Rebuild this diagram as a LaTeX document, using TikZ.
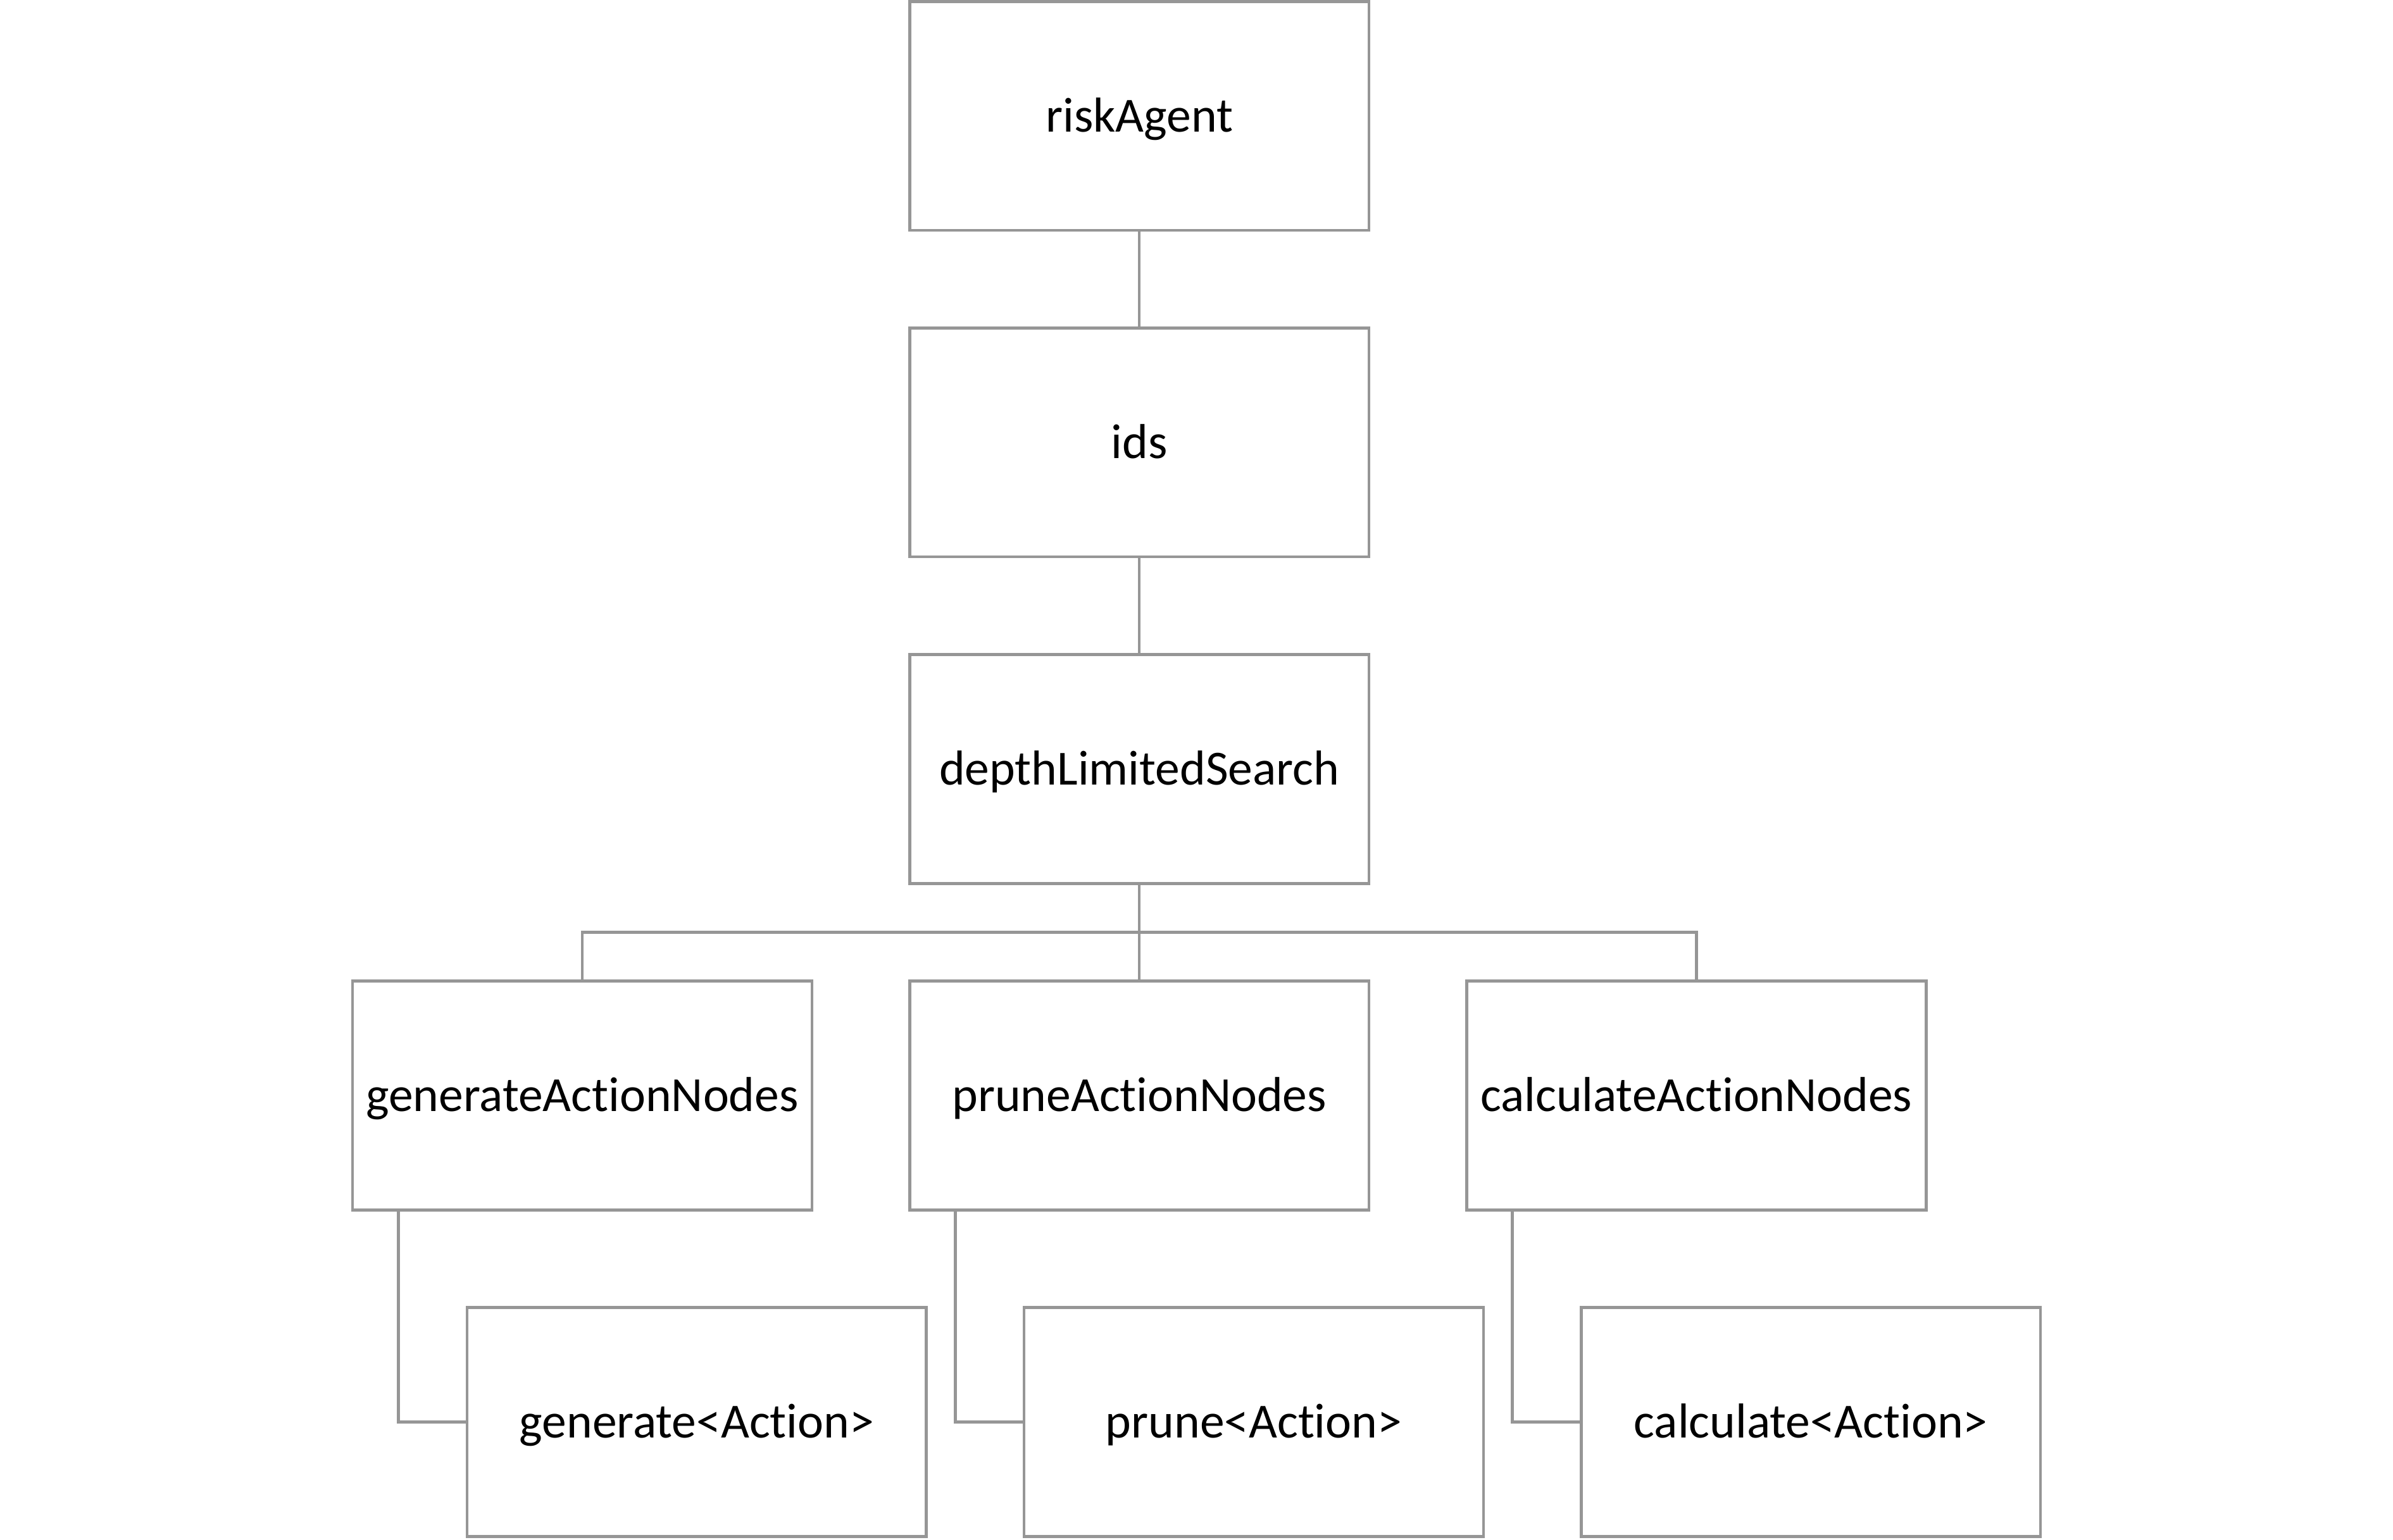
\documentclass[tikz,border=0pt]{standalone}
\usepackage{fontspec}
\setmainfont{Carlito}[Ligatures=NoCommon]
\usepackage{tikz}
\usetikzlibrary{positioning, calc}
\usepackage{xcolor}
\definecolor{linegray}{RGB}{150,150,150}

\begin{document}
\begin{tikzpicture}[
    node distance=1.28cm and 1.28cm,
    block/.style={rectangle, draw=linegray, line width=1.1pt, fill=white,
                  minimum height=3.0cm, minimum width=6.02cm, align=center,
                  inner sep=0pt, outer sep=0pt, text height=15.4pt, text depth=3.7pt,
                  font=\fontsize{18.3}{22}\selectfont},
    link/.style={draw=linegray, line width=1.1pt},
]
    \useasboundingbox (0,0) rectangle (31.36,-20.18);

    % Call chain
    \node[block] (agent) at (14.93,-1.52) {riskAgent};
    \node[block, below=of agent] (ids) {ids};
    \node[block, below=of ids] (dls) {depthLimitedSearch};

    % Action node steps
    \node[block, below=of dls] (prune) {pruneActionNodes};
    \node[block, left=of prune] (gen) {generateActionNodes};
    \node[block, right=of prune] (calc) {calculateActionNodes};

    % Per action calls
    \node[block, below right=1.28cm and 1.5cm of gen.south west, anchor=north west] (genact) {generate<Action>};
    \node[block, below right=1.28cm and 1.5cm of prune.south west, anchor=north west] (pruneact) {prune<Action>};
    \node[block, below right=1.28cm and 1.5cm of calc.south west, anchor=north west] (calcact) {calculate<Action>};

    % Connections
    \draw[link] (agent.south) -- (ids.north);
    \draw[link] (ids.south) -- (dls.north);
    \draw[link] (dls.south) -- (prune.north);
    \draw[link] (dls.south) -- ++(0,-0.64) -| (gen.north);
    \draw[link] (dls.south) -- ++(0,-0.64) -| (calc.north);

    \draw[link] ([xshift=0.6cm]gen.south west) |- (genact.west);
    \draw[link] ([xshift=0.6cm]prune.south west) |- (pruneact.west);
    \draw[link] ([xshift=0.6cm]calc.south west) |- (calcact.west);
\end{tikzpicture}
\end{document}
